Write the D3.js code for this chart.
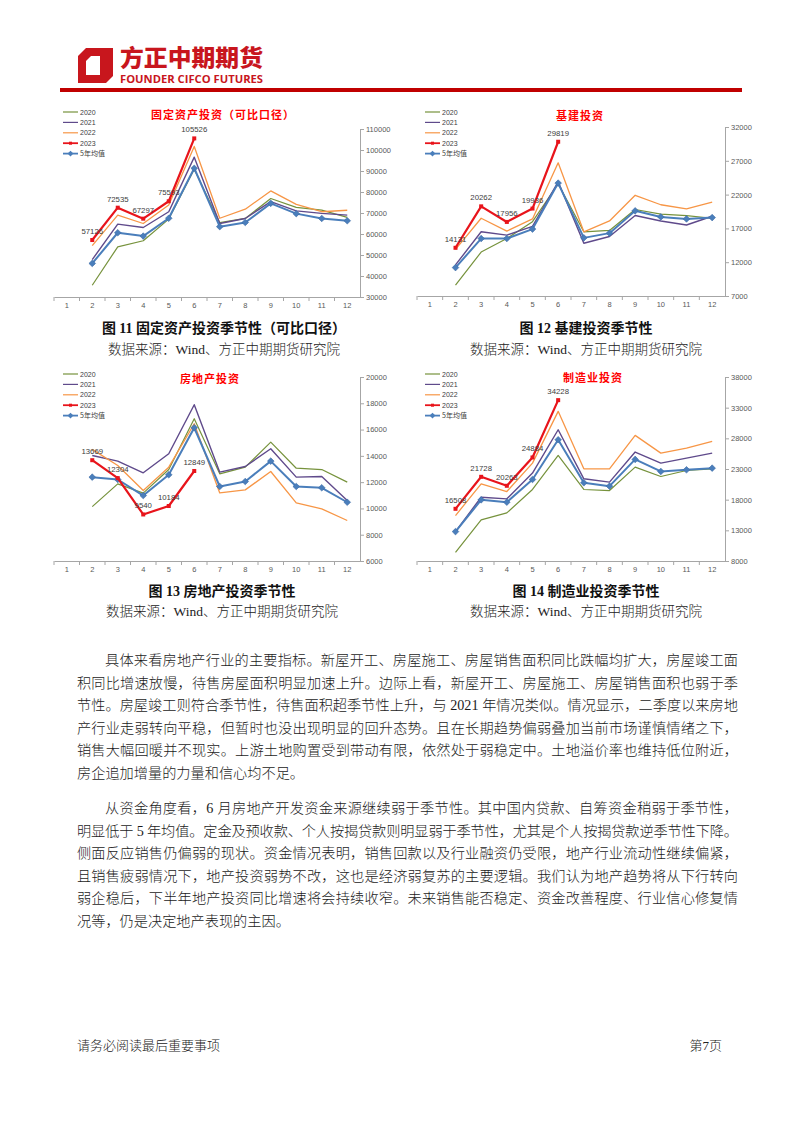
<!DOCTYPE html>
<html><head><meta charset="utf-8">
<script src="https://cdn.jsdelivr.net/npm/d3@7/dist/d3.min.js"></script>
<style>
html,body{margin:0;padding:0;background:#fff;}
svg{display:block;}
</style></head>
<body>
<svg id="page" width="802" height="1133"></svg>
<script>
// ---------- DATA ----------
const months = ["1","2","3","4","5","6","7","8","9","10","11","12"];
const seriesNames = ["2020","2021","2022","2023","5年均值"];

// 图11 固定资产投资（可比口径）
const fai2020 = [null, 35600, 53900, 56800, 67100, 90800, 65400, 67400, 76900, 72700, 71400, 67900];
const fai2021 = [null, 47800, 64700, 63100, 70600, 96600, 65000, 67400, 75400, 71000, 69800, 69000];
const fai2022 = [null, 54500, 69000, 65000, 73800, 101700, 67500, 71800, 80500, 74100, 70600, 71300];
const fai2023 = [null, 57126, 72535, 67297, 75593, 105526];
const faiAvg  = [null, 46000, 60600, 59000, 67500, 91300, 63500, 65500, 74600, 69700, 67400, 66300];
const faiTicks = [30000, 40000, 50000, 60000, 70000, 80000, 90000, 100000, 110000];

// 图12 基建投资
const inf2020 = [null, 8600, 13500, 15500, 18000, 23600, 16500, 16700, 19800, 19100, 18900, 18500];
const inf2021 = [null, 11600, 16500, 16000, 17300, 23900, 14800, 15800, 18900, 18100, 17500, 18800];
const inf2022 = [null, 13900, 18500, 16600, 18400, 26700, 16500, 18100, 21900, 20500, 19900, 20900];
const inf2023 = [null, 14131, 20262, 17956, 19936, 29819];
const infAvg  = [null, 11200, 15500, 15500, 16900, 23700, 15600, 16300, 19600, 18700, 18400, 18600];
const infTicks = [7000, 12000, 17000, 22000, 27000, 32000];

// 图13 房地产投资
const re2020 = [null, 10140, 11870, 11160, 12960, 16830, 12630, 13140, 15050, 13060, 12960, 12000];
const re2021 = [null, 14030, 13600, 12710, 14160, 17890, 12760, 13190, 14540, 12380, 12430, 10600];
const re2022 = [null, 14490, 13270, 11360, 13140, 16440, 11180, 11410, 12810, 10420, 9960, 9080];
const re2023 = [null, 13669, 12304, 9540, 10184, 12849];
const reAvg  = [null, 12380, 12200, 10980, 12560, 16140, 11670, 12050, 13600, 11670, 11570, 10470];
const reTicks = [6000, 8000, 10000, 12000, 14000, 16000, 18000, 20000];

// 图14 制造业投资
const mf2020 = [null, 9400, 14700, 15840, 19660, 25210, 19660, 19490, 23300, 21780, 22760, 23030];
const mf2021 = [null, 12790, 18400, 18130, 22330, 29400, 21400, 20860, 25760, 23960, 24780, 25590];
const mf2022 = [null, 15410, 20580, 19330, 23960, 32400, 23030, 23030, 28480, 25590, 26410, 27500];
const mf2023 = [null, 16508, 21728, 20263, 24884, 34228];
const mfAvg  = [null, 12790, 17970, 17590, 21290, 27770, 20750, 20200, 24560, 22600, 22870, 23140];
const mfTicks = [8000, 13000, 18000, 23000, 28000, 33000, 38000];

const chartTitles = ["固定资产投资（可比口径）", "基建投资", "房地产投资", "制造业投资"];
const captions = ["图 11  固定资产投资季节性（可比口径）", "图 12  基建投资季节性", "图 13  房地产投资季节性", "图 14  制造业投资季节性"];
const sourceText = "数据来源：Wind、方正中期期货研究院";

const para1 = [
 "具体来看房地产行业的主要指标。新屋开工、房屋施工、房屋销售面积同比跌幅均扩大，房屋竣工面",
 "积同比增速放慢，待售房屋面积明显加速上升。边际上看，新屋开工、房屋施工、房屋销售面积也弱于季",
 "节性。房屋竣工则符合季节性，待售面积超季节性上升，与 2021 年情况类似。情况显示，二季度以来房地",
 "产行业走弱转向平稳，但暂时也没出现明显的回升态势。且在长期趋势偏弱叠加当前市场谨慎情绪之下，",
 "销售大幅回暖并不现实。上游土地购置受到带动有限，依然处于弱稳定中。土地溢价率也维持低位附近，",
 "房企追加增量的力量和信心均不足。"
];
const para2 = [
 "从资金角度看，6 月房地产开发资金来源继续弱于季节性。其中国内贷款、自筹资金稍弱于季节性，",
 "明显低于  5 年均值。定金及预收款、个人按揭贷款则明显弱于季节性，尤其是个人按揭贷款逆季节性下降。",
 "侧面反应销售仍偏弱的现状。资金情况表明，销售回款以及行业融资仍受限，地产行业流动性继续偏紧，",
 "且销售疲弱情况下，地产投资弱势不改，这也是经济弱复苏的主要逻辑。我们认为地产趋势将从下行转向",
 "弱企稳后，下半年地产投资同比增速将会持续收窄。未来销售能否稳定、资金改善程度、行业信心修复情",
 "况等，仍是决定地产表现的主因。"
];
const footerLeft = "请务必阅读最后重要事项";
const footerRight = "第7页";

// ---------- STYLE ----------
const colors = {"2020":"#76923c","2021":"#5f4a8b","2022":"#f79646","2023":"#e8141b","5年均值":"#4a7ebb"};
const widths = {"2020":1.2,"2021":1.4,"2022":1.3,"2023":2.2,"5年均值":2};
const CJK = "'Noto Sans CJK SC', sans-serif";
const SERIF = "'Liberation Serif', 'Noto Sans CJK SC', serif";

const svg = d3.select("#page");
svg.append("rect").attr("width",802).attr("height",1133).attr("fill","#fff");

// ---------- HEADER ----------
const hdr = svg.append("g");
hdr.append("path").attr("d","M86,48 L113,48 L113,76 L106,83 L78,83 L78,56 Z").attr("fill","#c8161d");
hdr.append("path").attr("d","M91,56 L105,56 L105,75 L86,75 L86,61 Z").attr("fill","#fff");
hdr.append("rect").attr("x",100).attr("y",56).attr("width",5).attr("height",19).attr("fill","#c8161d");
hdr.append("text").attr("x",120).attr("y",66).attr("font-family",CJK).attr("font-weight",900)
  .attr("font-size",23).attr("fill","#c8161d").attr("textLength",143).attr("lengthAdjust","spacingAndGlyphs").text("方正中期期货");
hdr.append("text").attr("x",120).attr("y",83).attr("font-family","'Open Sans', 'Liberation Sans', sans-serif").attr("font-weight",700)
  .attr("font-size",10.5).attr("fill","#c8161d").attr("textLength",143).attr("lengthAdjust","spacingAndGlyphs").text("FOUNDER CIFCO FUTURES");
hdr.append("rect").attr("x",60).attr("y",88).attr("width",682).attr("height",4).attr("fill","#c00000");

// ---------- CHART ----------
function drawChart(cfg){
  const g = svg.append("g");
  const x = d3.scaleBand().domain(months).range([cfg.x0, cfg.x1]);
  const y = d3.scaleLinear().domain([cfg.ticks[0], cfg.ticks[cfg.ticks.length-1]]).range([cfg.yb, cfg.yt]);
  const cx = m => x(m) + x.bandwidth()/2;
  const axisCol = "#a6a6a6";

  const xa = g.append("g").attr("transform",`translate(0,${cfg.yb})`)
    .call(d3.axisBottom(x).tickSize(0).tickPadding(6));
  xa.select(".domain").attr("stroke",axisCol).attr("stroke-width",1);
  xa.selectAll("text").attr("font-family","'Liberation Sans', sans-serif").attr("font-size",7.5).attr("fill","#595959");
  g.append("g").selectAll("line").data(months).join("line")
    .attr("x1",d=>x(d)).attr("x2",d=>x(d)).attr("y1",cfg.yb).attr("y2",cfg.yb+4)
    .attr("stroke",axisCol);

  const ya = g.append("g").attr("transform",`translate(${cfg.x1},0)`)
    .call(d3.axisRight(y).tickValues(cfg.ticks).tickSize(4).tickPadding(2).tickFormat(d3.format("d")));
  ya.select(".domain").attr("stroke",axisCol);
  ya.selectAll(".tick line").attr("stroke",axisCol);
  ya.selectAll("text").attr("font-family","'Liberation Sans', sans-serif").attr("font-size",7.5).attr("fill","#595959");

  const line = d3.line().defined(d=>d.v!=null).x(d=>cx(d.m)).y(d=>y(d.v));
  const toPts = arr => arr.map((v,i)=>({m:months[i], v}));

  const order = ["2020","2021","2022","5年均值","2023"];
  order.forEach(name=>{
    const pts = toPts(cfg.series[name]);
    g.append("path").datum(pts).attr("d",line).attr("fill","none")
      .attr("stroke",colors[name]).attr("stroke-width",widths[name]).attr("stroke-linejoin","round");
    if(name==="5年均值"){
      g.append("g").selectAll("path").data(pts.filter(d=>d.v!=null)).join("path")
        .attr("d",d3.symbol(d3.symbolDiamond2,28)())
        .attr("transform",d=>`translate(${cx(d.m)},${y(d.v)})`)
        .attr("fill","#4a7ebb").attr("stroke","#3a6aa5").attr("stroke-width",0.6);
    }
    if(name==="2023"){
      g.append("g").selectAll("rect").data(pts.filter(d=>d.v!=null)).join("rect")
        .attr("x",d=>cx(d.m)-2).attr("y",d=>y(d.v)-2).attr("width",4).attr("height",4)
        .attr("fill","#e8141b");
      g.append("g").selectAll("text").data(pts.filter(d=>d.v!=null)).join("text")
        .attr("x",d=>cx(d.m)).attr("y",d=>y(d.v)-6).attr("text-anchor","middle")
        .attr("font-family","'Liberation Sans', sans-serif").attr("font-size",7.8).attr("fill","#404040")
        .text(d=>d.v);
    }
  });

  g.append("text").attr("x",cfg.titleX).attr("y",cfg.titleY).attr("text-anchor","middle")
    .attr("font-family",CJK).attr("font-weight",700).attr("font-size",11).attr("letter-spacing",1)
    .attr("fill","#ff0000").text(cfg.title);

  const lg = g.append("g").attr("transform",`translate(${cfg.lx},${cfg.ly})`);
  seriesNames.forEach((name,i)=>{
    const yy = i*10.4;
    lg.append("line").attr("x1",0).attr("x2",15).attr("y1",yy).attr("y2",yy)
      .attr("stroke",colors[name]).attr("stroke-width",name==="2023"||name==="5年均值"?1.8:1.2);
    if(name==="2023") lg.append("rect").attr("x",6).attr("y",yy-1.5).attr("width",3).attr("height",3).attr("fill",colors[name]);
    if(name==="5年均值") lg.append("path").attr("d",d3.symbol(d3.symbolDiamond2,22)()).attr("transform",`translate(7.5,${yy})`).attr("fill","#4a7ebb");
    lg.append("text").attr("x",17).attr("y",yy+2.6).attr("font-family",name==="5年均值"?CJK:"'Liberation Sans', sans-serif")
      .attr("font-size",7).attr("fill","#404040").text(name);
  });
}

drawChart({x0:54,x1:360,yb:297,yt:129,ticks:faiTicks,title:chartTitles[0],titleX:223,titleY:119,lx:63,ly:112,
  series:{"2020":fai2020,"2021":fai2021,"2022":fai2022,"2023":fai2023,"5年均值":faiAvg}});
drawChart({x0:417,x1:725,yb:296,yt:127,ticks:infTicks,title:chartTitles[1],titleX:580,titleY:120,lx:425,ly:112,
  series:{"2020":inf2020,"2021":inf2021,"2022":inf2022,"2023":inf2023,"5年均值":infAvg}});
drawChart({x0:54,x1:360,yb:561,yt:377,ticks:reTicks,title:chartTitles[2],titleX:210,titleY:383,lx:63,ly:374,
  series:{"2020":re2020,"2021":re2021,"2022":re2022,"2023":re2023,"5年均值":reAvg}});
drawChart({x0:417,x1:725,yb:561,yt:377,ticks:mfTicks,title:chartTitles[3],titleX:593,titleY:382,lx:425,ly:374,
  series:{"2020":mf2020,"2021":mf2021,"2022":mf2022,"2023":mf2023,"5年均值":mfAvg}});

// ---------- CAPTIONS ----------
const capPos = [[224,333,354],[586,333,354],[222,596,616],[586,596,616]];
captions.forEach((c,i)=>{
  const [cxp,cy1,cy2] = capPos[i];
  svg.append("text").attr("x",cxp).attr("y",cy1).attr("text-anchor","middle").attr("font-family",SERIF)
    .attr("font-weight",700).attr("font-size",14).attr("fill","#111").text(c);
  svg.append("text").attr("x",cxp).attr("y",cy2).attr("text-anchor","middle").attr("font-family",SERIF)
    .attr("font-weight",300).attr("font-size",13.5).attr("fill","#222").text(sourceText);
});

// ---------- BODY TEXT ----------
function drawPara(lines, y0){
  lines.forEach((t,i)=>{
    const first = i===0, last = i===lines.length-1;
    const xs = first ? 105 : 77;
    const el = svg.append("text").attr("x",xs).attr("y",y0+i*22.6).attr("font-family",SERIF)
      .attr("font-weight",300).attr("font-size",14.2).attr("fill","#1a1a1a").text(t);
    if(!last) el.attr("textLength",738-xs).attr("lengthAdjust","spacing");
  });
}
drawPara(para1, 665);
drawPara(para2, 813);

// ---------- FOOTER ----------
svg.append("text").attr("x",77).attr("y",1050).attr("font-family",SERIF).attr("font-weight",300).attr("font-size",13).attr("fill","#222").text(footerLeft);
svg.append("text").attr("x",722).attr("y",1050).attr("text-anchor","end").attr("font-family",SERIF).attr("font-weight",300).attr("font-size",13).attr("fill","#222").text(footerRight);
</script>
</body></html>
